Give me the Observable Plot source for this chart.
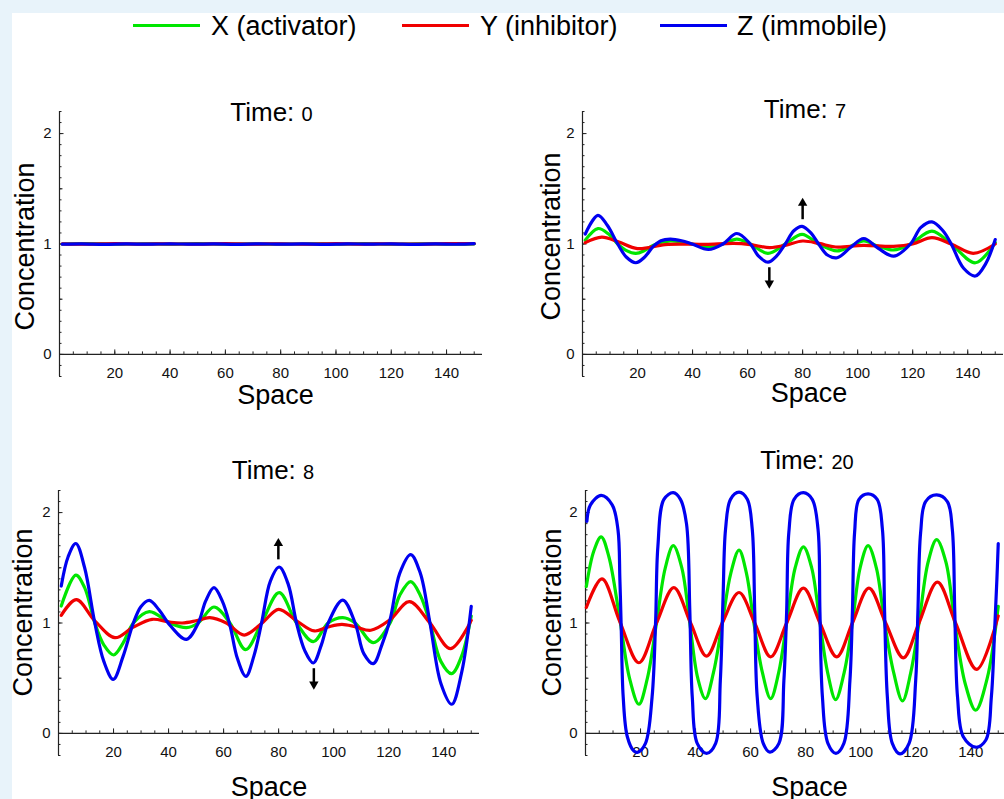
<!DOCTYPE html>
<html><head><meta charset="utf-8">
<script src="https://cdn.jsdelivr.net/npm/d3@7"></script>
<script src="https://cdn.jsdelivr.net/npm/@observablehq/plot@0.6"></script>
<style>
html,body{margin:0;padding:0;background:#e8f3fa;}
#root{position:relative;width:1004px;height:799px;overflow:hidden;background:#e8f3fa;font-family:"Liberation Sans",Arial,sans-serif;color:#000;}
#paper{position:absolute;left:12px;top:13px;right:0;bottom:0;background:#fff;}
.panel{position:absolute;}
.title{position:absolute;width:300px;text-align:center;font-size:26px;line-height:30px;white-space:nowrap;}
.title .v{font-size:20px;}
.legline{position:absolute;height:3px;width:67px;}
.legtext{position:absolute;font-size:27px;line-height:30px;white-space:nowrap;}
</style></head>
<body><div id="root"><div id="paper"></div></div>
<script>
// ---------- data ----------
const seriesNames = ["X (activator)", "Y (inhibitor)", "Z (immobile)"];
const seriesColors = ["#00e600", "#f00000", "#0000f0"];
const times = ["0", "7", "8", "20"];

// Time 0
const t0X = [[1,1.0],[10,1.003],[20,0.998],[30,1.002],[40,0.999],[50,1.003],[60,0.998],[70,1.001],[80,0.998],[90,1.002],[100,0.999],[110,1.003],[120,0.998],[130,1.002],[140,0.999],[150,1.002]];
const t0Y = [[1,1.002],[10,0.998],[20,1.003],[30,0.999],[40,1.002],[50,0.998],[60,1.003],[70,0.999],[80,1.002],[90,0.998],[100,1.003],[110,0.999],[120,1.002],[130,0.998],[140,1.003],[150,1.004]];
const t0Z = [[1,0.998],[8,1.002],[16,0.997],[24,1.001],[32,0.998],[40,1.002],[48,0.998],[56,1.001],[64,0.997],[72,1.002],[80,0.998],[88,1.001],[96,0.997],[104,1.002],[112,0.998],[120,1.002],[128,0.997],[136,1.001],[144,0.998],[150,1.003]];

// Time 7
const t7X = [[1,1.035],[5.6,1.14],[9.5,1.09],[12.8,1.0],[16,0.94],[19.4,0.915],[22.5,0.94],[25.8,0.99],[31.9,1.027],[39.8,1.0],[45.8,0.972],[51,1.0],[56.1,1.045],[61,1.0],[67.4,0.915],[73.7,1.0],[79.8,1.088],[85.8,1.0],[92.5,0.937],[97.5,0.98],[102.2,1.027],[107.5,0.98],[113.1,0.946],[119.2,1.0],[127,1.117],[134,1.0],[142.8,0.83],[150,1.012]];
const t7Y = [[1,1.012],[7,1.063],[13,1.02],[20,0.958],[30,0.995],[40,0.998],[45,0.996],[55,1.006],[61,0.995],[68,0.967],[74,0.99],[80,1.027],[86,1.005],[92,0.973],[102,0.988],[113,0.979],[120,1.0],[127,1.057],[134,1.0],[142,0.916],[150,1.0]];
const t7Z = [[1,1.09],[5.6,1.26],[9,1.17],[12.8,1.0],[16,0.88],[19.4,0.83],[22.5,0.88],[25.8,0.98],[28.5,1.03],[31.9,1.045],[36,1.03],[39.8,1.0],[45.8,0.95],[51,1.0],[56.1,1.095],[61,1.0],[64,0.89],[67.4,0.835],[70.5,0.89],[73.7,1.0],[76.8,1.12],[79.8,1.16],[83,1.1],[85.8,1.0],[89,0.9],[92.5,0.875],[97.5,0.97],[102.2,1.05],[107.5,0.96],[113.1,0.89],[119.2,1.0],[123,1.15],[127,1.2],[131,1.12],[134,1.0],[138.5,0.78],[142.8,0.71],[146.5,0.82],[150,1.04]];

// Time 8
const t8X = [[1,1.154],[6.3,1.434],[9.5,1.32],[13.2,1.0],[16.5,0.8],[20,0.71],[23.5,0.82],[27.2,1.0],[33,1.103],[40.5,1.0],[46.5,0.958],[50.8,1.0],[56.5,1.145],[62.3,1.0],[68,0.759],[73.8,1.0],[80.2,1.275],[86.5,1.0],[92.6,0.831],[98,1.0],[103.3,1.048],[107.8,1.0],[114.4,0.822],[120.5,1.0],[124,1.25],[128,1.374],[131.5,1.25],[135,1.0],[139,0.65],[142.9,0.541],[146.5,0.7],[150,1.063]];
const t8Y = [[1,1.069],[6.5,1.211],[13.2,1.02],[20.5,0.867],[27,0.96],[34,1.033],[40,1.01],[45,1.0],[50,1.02],[55,1.048],[61,1.0],[67.5,0.891],[74,1.0],[80,1.124],[86.5,1.02],[93,0.928],[98,0.965],[103,0.988],[108,0.965],[113.5,0.934],[120.5,1.03],[127.5,1.193],[135,1.0],[142.5,0.768],[150,1.024]];
const t8Z = [[1,1.335],[3.5,1.6],[6.3,1.72],[9.5,1.5],[13.2,1.0],[16.5,0.65],[19.9,0.49],[23.5,0.7],[27.2,1.0],[30,1.15],[33,1.205],[36.5,1.12],[40.5,0.98],[46.5,0.852],[50.8,1.0],[53.5,1.2],[56.5,1.32],[59.5,1.2],[62.3,0.98],[65,0.68],[68.1,0.517],[71,0.7],[73.8,1.0],[77,1.38],[80.2,1.507],[83.5,1.35],[86.5,1.0],[89.5,0.75],[92.6,0.638],[95.5,0.8],[98,1.0],[103.3,1.208],[107.8,1.0],[111,0.72],[114.4,0.632],[117.5,0.8],[120.5,1.03],[124,1.45],[128,1.62],[131.5,1.45],[135,1.0],[139,0.45],[142.9,0.264],[146.5,0.55],[150,1.15]];

// Time 20
const t20X = [[0.3,1.33],[3,1.65],[5.7,1.78],[8.5,1.6],[12.5,1.03],[16,0.5],[19.4,0.264],[22.5,0.5],[25.8,1.0],[29,1.5],[31.9,1.70],[35,1.5],[37.9,1.0],[40.8,0.5],[43.6,0.315],[46.5,0.55],[49.7,1.0],[52.8,1.45],[55.8,1.66],[58.5,1.45],[61.2,1.0],[64.3,0.55],[67.3,0.315],[70.2,0.55],[73.1,1.0],[76.2,1.5],[79.2,1.69],[82.2,1.5],[85.2,1.0],[88,0.55],[90.9,0.306],[94,0.55],[97,1.0],[99.8,1.5],[102.7,1.70],[105.7,1.5],[108.7,1.0],[112,0.55],[115.2,0.294],[118.2,0.55],[121.2,1.0],[124.5,1.55],[127.6,1.755],[131,1.55],[134.2,1.0],[138,0.45],[141.8,0.21],[146,0.5],[150,1.15]];
const t20Y = [[0.3,1.14],[6,1.40],[12.5,1.01],[19.4,0.64],[25.8,1.0],[32.1,1.32],[38.2,1.0],[44,0.70],[49.7,1.0],[55.8,1.276],[61.5,1.0],[67.3,0.694],[73.1,1.0],[79.2,1.315],[85.2,1.0],[91.3,0.694],[97,1.0],[103,1.315],[109.1,1.0],[115.5,0.685],[121.2,1.0],[127.9,1.37],[134.5,1.0],[142.2,0.58],[150,1.064]];
const t20Z = [[0.5,1.92],[1.8,2.07],[5.7,2.155],[9.7,2.07],[11.8,1.845],[12.5,1.39],[13,0.94],[13.7,0.33],[15.2,-0.03],[17.6,-0.16],[19,-0.17],[21.8,-0.09],[24.2,0.33],[25.5,1.03],[26.3,1.69],[28.5,2.12],[31.9,2.18],[34.5,2.12],[36.7,1.9],[37.9,1.12],[38.8,0.33],[40.6,-0.09],[44,-0.18],[47.3,-0.09],[49,0.48],[50,1.24],[50.9,1.85],[52.7,2.12],[55.8,2.185],[58.8,2.12],[60.6,1.85],[61.5,1.1],[62.4,0.33],[64.6,-0.09],[67,-0.17],[70.3,-0.09],[72.1,0.48],[73.1,1.1],[73.9,1.82],[75.8,2.12],[79.2,2.18],[82.4,2.12],[84.5,1.85],[85.2,1.1],[86.1,0.33],[88.1,-0.09],[91,-0.18],[93.9,-0.09],[96.1,0.48],[97,1.1],[97.8,1.82],[99.4,2.12],[102.7,2.17],[106,2.12],[107.9,1.85],[108.7,1.1],[109.7,0.33],[111.5,-0.09],[114.3,-0.185],[117.6,-0.09],[120,0.48],[120.8,1.1],[121.8,1.82],[123.6,2.1],[127.6,2.16],[131.5,2.1],[133.3,1.85],[134.2,1.1],[135.2,0.33],[137.3,-0.03],[141.8,-0.125],[145.5,-0.06],[147.5,0.33],[148.7,0.94],[149.5,1.39],[150,1.72]];

// arrows (x position, from value, to value)
const t7ArrowsUp = [{x:80, from:1.22, to:1.42}];
const t7ArrowsDown = [{x:67.9, from:0.785, to:0.595}];
const t8ArrowsUp = [{x:79.9, from:1.572, to:1.771}];
const t8ArrowsDown = [{x:92.8, from:0.586, to:0.395}];

// axes
const xDomain = [0, 153];
const yDomain = [-0.2, 2.2];
const xTickLabels = [20, 40, 60, 80, 100, 120, 140];
const yTickLabels = [0, 1, 2];

// ---------- layout ----------
const panels = [
  {time: times[0], data: [t0X, t0Y, t0Z], up: [], down: [], x0: 59, yTop: 111, frameW: 423, frameH: 265,
   ylab: [-34, 2.5], xlab: [4.5, 19], title: [271.5, 121]},
  {time: times[1], data: [t7X, t7Y, t7Z], up: t7ArrowsUp, down: t7ArrowsDown, x0: 582, yTop: 111, frameW: 421, frameH: 265,
   ylab: [-31, -7.5], xlab: [16, 17], title: [805, 118]},
  {time: times[2], data: [t8X, t8Y, t8Z], up: t8ArrowsUp, down: t8ArrowsDown, x0: 58, yTop: 490, frameW: 421, frameH: 265,
   ylab: [-35, -10.5], xlab: [0, 32], title: [273, 479]},
  {time: times[3], data: [t20X, t20Y, t20Z], up: [], down: [], x0: 585, yTop: 490, frameW: 421, frameH: 265,
   ylab: [-33, -10.5], xlab: [13.5, 32], title: [807, 469]}
];

const root = document.getElementById("root");
const axisColor = "#222";
const mL = 60, mR = 4, mT = 10, mB = 48;

for (const p of panels) {
  const yPerPx = (yDomain[1] - yDomain[0]) / p.frameH;
  const xPerPx = (xDomain[1] - xDomain[0]) / p.frameW;
  const xMinor = d3.range(5, 153, 5);
  const xMajor = d3.range(20, 153, 20);
  const yMinor = d3.range(-2, 23).map(i => i / 10);
  const yMid = [0.5, 1.5];
  const marks = [
    Plot.ruleY([0], {stroke: axisColor, strokeWidth: 1.2}),
    Plot.ruleX([0], {stroke: axisColor, strokeWidth: 1.2}),
    Plot.ruleX(xMinor, {x: d => d, y1: () => 0, y2: () => 2.5 * yPerPx, stroke: axisColor}),
    Plot.ruleX(xMajor, {x: d => d, y1: () => 0, y2: () => 4.5 * yPerPx, stroke: axisColor}),
    Plot.ruleY(yMinor, {y: d => d, x1: () => 0, x2: () => 2.5 * xPerPx, stroke: axisColor}),
    Plot.ruleY(yMid, {y: d => d, x1: () => 0, x2: () => 3.5 * xPerPx, stroke: axisColor}),
    Plot.ruleY(yTickLabels, {y: d => d, x1: () => 0, x2: () => 4.5 * xPerPx, stroke: axisColor}),
    Plot.text(xTickLabels, {x: d => d, y: () => 0, dy: 19, fontSize: 15, fill: "#111"}),
    Plot.text(yTickLabels, {x: () => 0, y: d => d, dx: -8, textAnchor: "end", fontSize: 15, fill: "#111"}),
    Plot.text(["Concentration"], {frameAnchor: "left", textAnchor: "middle", lineAnchor: "middle", rotate: -90, dx: p.ylab[0], dy: p.ylab[1], fontSize: 27, fill: "#000"}),
    Plot.text(["Space"], {frameAnchor: "bottom", textAnchor: "middle", lineAnchor: "middle", dx: p.xlab[0], dy: p.xlab[1], fontSize: 27, fill: "#000"})
  ];
  p.data.forEach((s, i) => {
    marks.push(Plot.line(s, {x: d => d[0], y: d => d[1], stroke: seriesColors[i], strokeWidth: 3.2, curve: "catmull-rom"}));
  });
  if (p.up.length) {
    marks.push(Plot.ruleX(p.up, {x: "x", y1: "from", y2: d => d.to - 6 * yPerPx, stroke: "#000", strokeWidth: 2.5}));
    marks.push(Plot.dot(p.up, {x: "x", y: "to", symbol: "triangle", r: 3.5, fill: "#000", stroke: null, dy: 5.5}));
  }
  if (p.down.length) {
    marks.push(Plot.ruleX(p.down, {x: "x", y1: "from", y2: d => d.to + 6 * yPerPx, stroke: "#000", strokeWidth: 2.5}));
    marks.push(Plot.dot(p.down, {x: "x", y: "to", symbol: "triangle", rotate: 180, r: 3.5, fill: "#000", stroke: null, dy: -5.5}));
  }
  const svg = Plot.plot({
    width: mL + p.frameW + mR,
    height: mT + p.frameH + mB,
    marginLeft: mL, marginRight: mR, marginTop: mT, marginBottom: mB,
    x: {domain: xDomain, axis: null},
    y: {domain: yDomain, axis: null},
    style: {background: "transparent", overflow: "visible", fontFamily: '"Liberation Sans", Arial, sans-serif'},
    marks
  });
  svg.classList.add("panel");
  svg.style.left = (p.x0 - mL) + "px";
  svg.style.top = (p.yTop - mT) + "px";
  svg.style.maxWidth = "none";
  root.appendChild(svg);

  const t = document.createElement("div");
  t.className = "title";
  t.style.left = (p.title[0] - 150) + "px";
  t.style.top = (p.title[1] - 24) + "px";
  t.innerHTML = 'Time: <span class="v">' + p.time + '</span>';
  root.appendChild(t);
}

// legend
const legendPos = [[133, 211], [402, 480], [660, 737]];
seriesNames.forEach((name, i) => {
  const l = document.createElement("div");
  l.className = "legline";
  l.style.left = legendPos[i][0] + "px";
  l.style.top = "23.5px";
  l.style.background = seriesColors[i];
  root.appendChild(l);
  const tx = document.createElement("div");
  tx.className = "legtext";
  tx.style.left = legendPos[i][1] + "px";
  tx.style.top = "10.5px";
  tx.textContent = name;
  root.appendChild(tx);
});
</script></body></html>
